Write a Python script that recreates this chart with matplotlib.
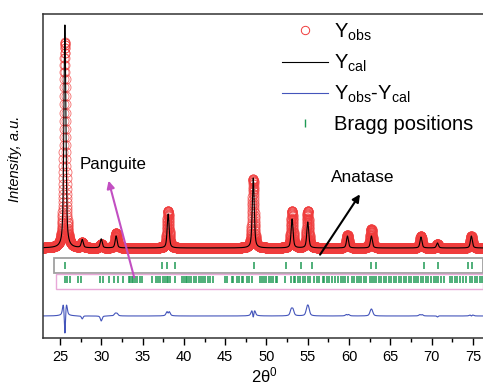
import numpy as np
import matplotlib.pyplot as plt
from matplotlib.patches import Rectangle
from matplotlib.lines import Line2D

plt.rcParams['font.family'] = ['Liberation Sans', 'DejaVu Sans']
plt.rcParams['mathtext.default'] = 'regular'

# reflections seen in the pattern: 2theta, observed / calculated height above background
peak_pos = [25.6, 27.7, 30.0, 31.8, 38.1, 48.4, 53.1, 55.0, 59.8, 62.7, 68.7, 70.7, 74.8]
obs_height = [206, 5, 4, 15, 37, 69, 37, 37, 13, 19, 12, 4, 12]
cal_height = [223, 8, 9, 12, 34, 70, 29, 26, 12, 12, 11, 5, 12]
obs_fwhm = 0.32
cal_fwhm = 0.28
background = 90
diff_offset = 22

# Bragg positions (anatase row, panguite row)
anatase_ticks = [25.6, 37.3, 37.9, 38.9, 48.5, 52.4, 54.2, 55.5, 62.6, 63.2, 69.1, 70.8, 74.4, 74.9]
panguite_ticks = [25.6, 25.89, 26.21, 27.2, 27.6, 29.9, 30.2, 30.96, 31.5, 32.05, 32.6,
                  33.3, 33.5, 33.7, 33.9, 34.1, 34.35, 34.7, 34.95, 36.1, 36.6, 36.9, 37.1,
                  37.5, 37.7, 37.9, 38.1, 38.3, 38.9, 39.8, 40.0, 40.2, 40.4, 40.6, 40.9, 41.2,
                  41.5, 41.8, 42.05, 42.3, 42.5, 42.9, 43.2, 43.5, 44.95, 45.2, 45.8, 46.0,
                  46.4, 46.7, 47.0, 47.2, 47.6, 47.9, 48.2, 49.2, 49.4, 49.7, 50.0, 50.3, 50.5,
                  50.8, 51.1, 51.3, 52.2, 53.0, 53.3, 53.5, 53.8, 54.1, 54.4, 54.7, 55.0, 55.3,
                  55.8, 56.1, 56.4, 56.8, 57.0, 57.3, 57.6, 57.97, 58.3, 58.65, 59.0, 59.3,
                  59.5, 59.9, 60.3, 60.6, 60.9, 61.2, 61.5, 61.8, 62.1, 62.5, 62.8, 63.0, 63.3,
                  63.6, 63.9, 64.2, 64.5, 64.8, 65.1, 65.4, 65.7, 66.0, 66.3, 66.6, 66.9, 67.2,
                  67.5, 67.8, 68.1, 68.4, 68.7, 69.0, 69.3, 69.6, 69.9, 70.3, 70.5, 70.8, 71.1,
                  71.5, 72.2, 72.4, 72.8, 73.1, 73.4, 73.8, 74.1, 74.6, 74.9, 75.2, 75.5, 75.8,
                  76.1]


def profile(x, heights, fwhm, eta=0.55):
    y = np.zeros_like(x)
    for p, h in zip(peak_pos, heights):
        d = (x - p) / fwhm
        lor = 1 / (1 + 4 * d ** 2)
        gau = np.exp(-4 * np.log(2) * d ** 2)
        y += h * (eta * lor + (1 - eta) * gau)
    return y


tt = np.arange(22.95, 76.5, 0.01)
y_obs = background + profile(tt, obs_height, obs_fwhm)
y_cal = background + profile(tt, cal_height, cal_fwhm)
y_diff = diff_offset + (y_obs - y_cal)

fig = plt.figure(figsize=(4.83, 3.86), dpi=100)
ax = fig.add_axes([43 / 483, 48 / 386, 442.4 / 483, 324 / 386])

ax.plot(tt, y_obs, 'o', mfc='none', mec='#f03c3c', mew=0.6, ms=6.5, alpha=0.75)
ax.plot(tt, y_cal, color='black', lw=0.8)
ax.plot(tt, y_diff, color='#4455bb', lw=0.8)

green = '#1f9a55'
ax.add_patch(Rectangle((24.27, 65), 76.15 - 24.27, 15, fill=False, ec='#a0a0a0', lw=1.3))
ax.add_patch(Rectangle((24.5, 49), 76.15 - 24.5, 15, fill=False, ec='#e8a8d8', lw=1.0))
ax.vlines(anatase_ticks, 69, 76, color=green, lw=1.1)
ax.vlines(panguite_ticks, 55, 62, color=green, lw=1.1)

ax.annotate('', xy=(30.8, 160), xytext=(34.07, 58),
            arrowprops=dict(arrowstyle='-|>', color='#c24fc2', lw=1.5, mutation_scale=11))
ax.text(31.4, 173, 'Panguite', fontsize=12.2, ha='center', va='center')
ax.annotate('', xy=(61.5, 146), xytext=(56.3, 81),
            arrowprops=dict(arrowstyle='-|>', color='black', lw=1.5, mutation_scale=11))
ax.text(61.6, 161, 'Anatase', fontsize=12.4, ha='center', va='center')

ax.set_xlim(22.95, 76.5)
ax.set_ylim(0, 324)
ax.set_yticks([])
ax.set_xticks(np.arange(25, 80, 5))
ax.set_xticks(np.arange(27.5, 77, 5), minor=True)
ax.tick_params(axis='x', which='major', direction='out', length=5, width=1, labelsize=10.5)
ax.tick_params(axis='x', which='minor', direction='out', length=3, width=1)
for s in ax.spines.values():
    s.set_linewidth(1.1)
    s.set_color('#333333')

ax.set_xlabel('2θ$^0$', fontsize=12, labelpad=1)
ax.set_ylabel('Intensity, a.u.', fontsize=10.5, style='italic')
ax.yaxis.set_label_coords(-0.047, 0.552)

handles = [Line2D([], [], ls='none', marker='o', mfc='none', mec='#f03c3c', mew=0.7, ms=6),
           Line2D([], [], color='black', lw=0.8),
           Line2D([], [], color='#4455bb', lw=0.8),
           Line2D([], [], ls='none', marker='|', color=green, ms=6)]
labels = ['Y$_{obs}$', 'Y$_{cal}$', 'Y$_{obs}$-Y$_{cal}$', 'Bragg positions']
ax.legend(handles, labels, loc='upper right', bbox_to_anchor=(1.0, 1.015), frameon=False,
          fontsize=14.5, handlelength=2.3, handletextpad=0.3, labelspacing=0.5,
          borderaxespad=0.2)

fig.savefig('out.png', dpi=100)
